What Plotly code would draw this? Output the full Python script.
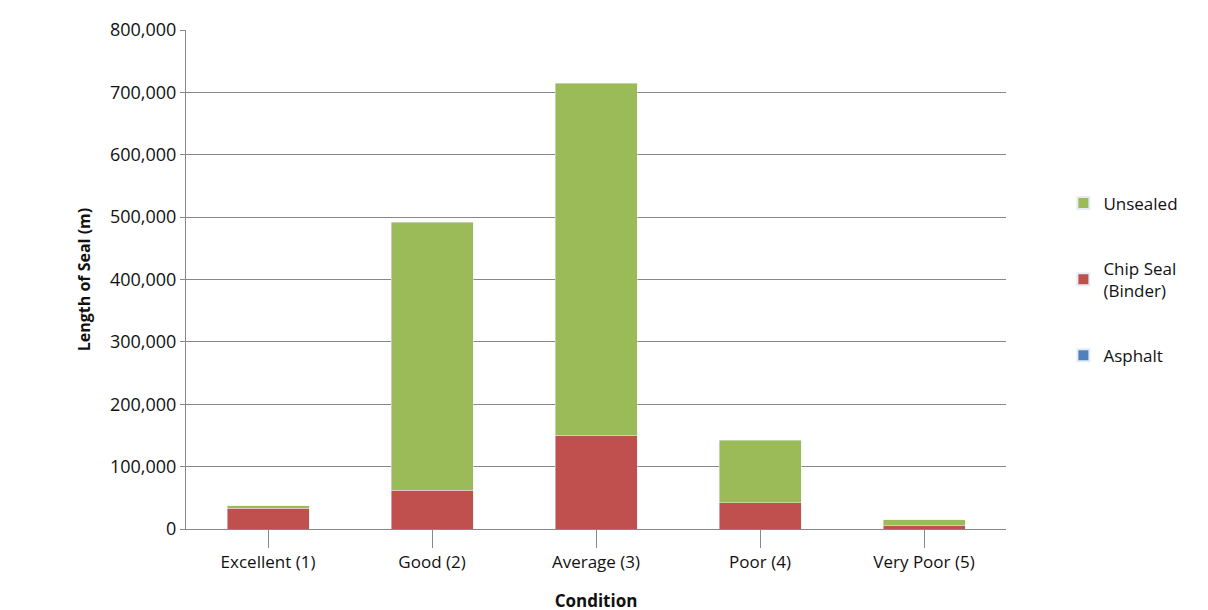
import plotly.graph_objects as go

categories = ["Excellent (1)", "Good (2)", "Average (3)", "Poor (4)", "Very Poor (5)"]
asphalt = [0, 0, 0, 0, 0]
chip_seal = [33000, 62000, 150000, 42000, 6000]
unsealed = [4000, 430000, 565000, 100000, 9000]

fig = go.Figure()
fig.add_bar(name="Asphalt", x=categories, y=asphalt, marker_color="#4F81BD", legendgroup="a", legendrank=3)
fig.add_bar(name="Chip Seal<br>(Binder)", x=categories, y=chip_seal, marker_color="#C0504D", legendgroup="b", legendrank=2)
fig.add_bar(name="Unsealed", x=categories, y=unsealed, marker_color="#9BBB59", legendgroup="c", legendrank=1)

fig.update_layout(
    barmode="stack", bargap=0.5,
    width=1208, height=610,
    paper_bgcolor="white", plot_bgcolor="white",
    font=dict(family="Open Sans, Liberation Sans, sans-serif", size=16, color="#111"),
    margin=dict(l=178, r=210, t=22, b=89, autoexpand=False),
    legend=dict(x=1.07, y=0.5, yanchor="middle", traceorder="grouped",
                font=dict(size=17), itemsizing="constant", tracegroupgap=40),
    xaxis=dict(title=dict(text="<b>Condition</b>", font=dict(size=17), standoff=22),
               showline=True, linecolor="#888", ticks="outside", tickcolor="#888",
               ticklen=18, tickfont=dict(size=17)),
    yaxis=dict(title=dict(text="<b>Length of Seal (m)</b>", font=dict(size=16)),
               range=[0, 800000], dtick=100000, tickformat=",", separatethousands=True,
               showgrid=True, gridcolor="#888", gridwidth=1,
               showline=True, linecolor="#888", ticks="outside", tickcolor="#888",
               tickfont=dict(size=18)),
)
fig.write_html("out.html")
